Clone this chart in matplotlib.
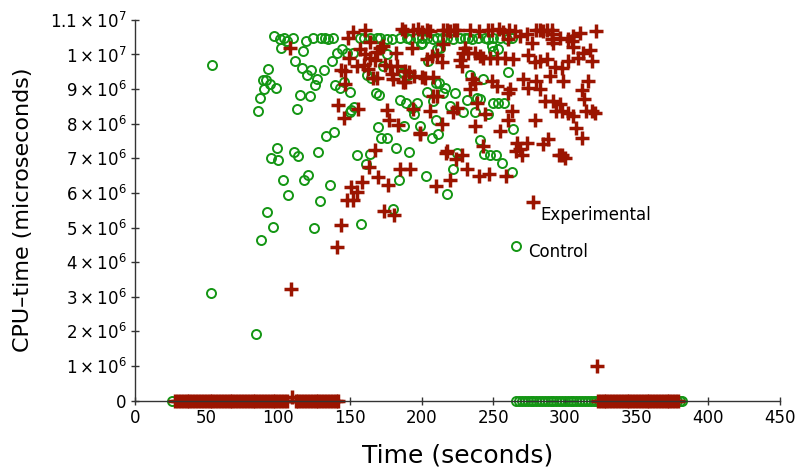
import numpy as np
import matplotlib
matplotlib.use("Agg")
import matplotlib.pyplot as plt
from matplotlib.ticker import FixedLocator, FuncFormatter

# CPU time per sample, in units of 10^6 microseconds
# control runs: scattered samples (time s, cpu)
ctrl_t = [53.7, 53.0, 84.4, 87.9, 85.8, 87.0, 89.0, 91.4, 94.2, 98.2, 90.2, 93.0,
          96.0, 91.9, 107.0, 103.0, 118.0, 121.0, 136.0, 129.0, 124.9, 158.0,
          95.0, 100.0, 99.0, 110.7, 114.0, 128.0, 155.0, 164.0, 161.0,
          133.0, 139.0, 169.3, 172.0, 176.0, 182.0, 188.0, 191.0, 198.8, 207.0, 211.6, 210.0,
          203.0, 184.0, 222.0, 218.0, 180.0, 225.0, 243.7, 248.0, 252.0, 256.0, 263.0,
          240.7, 264.0, 112.8, 115.0, 122.0, 125.8, 126.8, 120.0, 116.3, 123.0, 132.0,
          111.6, 117.0, 137.4, 140.7, 144.6, 147.7, 151.9,
          139.8, 143.0, 146.0, 150.0, 151.0, 152.8, 150.0,
          168.0, 170.0, 185.0, 189.0, 197.0, 193.0, 195.0, 204.0, 208.0, 210.0, 216.3, 223.3, 220.0,
          161.6, 165.0, 173.0, 186.8, 204.7, 212.0, 187.2, 190.7, 260.5, 233.7, 243.0, 215.0,
          231.4, 238.4, 240.7, 249.5, 253.5, 257.5, 229.0, 237.2, 246.5,
          175.6, 199.5, 210.5, 212.8, 200.0, 248.8, 253.5, 250.0,
          102.0, 106.0, 119.0,
          97.0, 101.0, 104.0, 110.0, 124.0, 129.5, 132.6, 135.0, 138.0, 157.0, 160.0, 164.0,
          168.6, 171.0, 175.6, 179.0, 185.0, 189.6, 192.0, 196.5, 200.0, 203.5, 208.1, 210.5,
          214.0, 217.5, 222.0, 226.7, 230.2, 232.5, 234.9, 239.5, 244.2, 246.5, 250.0, 254.7,
          259.3, 262.8]
ctrl_cpu = [9.71, 3.12, 1.93, 4.65, 8.36, 8.73, 9.25, 9.25, 9.14, 9.02, 9.00, 9.57,
            5.02, 5.46, 5.93, 6.37, 6.37, 6.53, 6.24, 5.78, 4.98, 5.10,
            7.00, 6.94, 7.30, 7.18, 7.07, 7.19, 7.09, 7.12, 6.84,
            7.64, 7.76, 7.91, 7.60, 7.58, 7.30, 7.92, 7.17, 7.93, 7.60, 7.69, 8.12,
            6.50, 6.37, 6.70, 5.98, 5.54, 7.16, 7.13, 7.09, 7.09, 6.87, 6.60,
            7.53, 7.85, 8.43, 8.82, 8.80, 9.11, 9.30, 9.40, 9.62, 9.55, 9.55,
            9.81, 10.10, 9.81, 10.03, 10.17, 10.05, 10.03,
            9.11, 9.02, 9.20, 8.93, 8.41, 8.48, 8.34,
            8.88, 8.82, 8.69, 8.61, 8.61, 8.46, 8.27, 8.91, 8.65, 9.17, 9.04, 8.90, 8.51,
            9.40, 9.33, 9.67, 9.46, 9.81, 9.19, 9.48, 9.40, 9.48, 9.40, 9.30, 8.90,
            8.69, 8.75, 8.70, 8.61, 8.61, 8.61, 8.34, 8.34, 8.27,
            10.00, 10.30, 10.17, 10.20, 10.34, 10.25, 10.17, 10.10,
            10.20, 10.39, 10.39,
            10.52, 10.46, 10.49, 10.49, 10.49, 10.49, 10.49, 10.44, 10.49, 10.49, 10.47, 10.49,
            10.49, 10.47, 10.46, 10.46, 10.49, 10.49, 10.46, 10.49, 10.47, 10.49, 10.46, 10.49,
            10.47, 10.49, 10.46, 10.49, 10.47, 10.49, 10.46, 10.47, 10.49, 10.46, 10.49, 10.47,
            10.46, 10.49]
# control runs: samples with zero CPU time
ctrl_zero_t = [26, 266, 268, 270, 272, 274, 276, 278, 280, 282, 284, 286, 288, 290,
               292, 294, 296, 298, 300, 302, 304, 306, 308, 310, 312, 314, 316, 318,
               320, 322, 324, 326, 328, 330, 332, 334, 336, 338, 340, 342, 344, 346,
               348, 350, 352, 354, 356, 358, 360, 362, 364, 366, 368, 370, 372, 374,
               376, 378, 380, 382]

# experimental runs: scattered samples
exp_t = [108.8, 141.0, 144.0, 148.0, 152.0, 150.7, 154.7, 158.6, 169.8, 176.5, 173.7, 163.0, 167.4,
         185.0, 192.0, 210.0, 220.0, 232.0, 240.0, 247.0, 259.0, 224.0, 228.0, 181.0, 217.0,
         266.0, 270.0, 296.0, 300.0, 322.3, 109.5,
         141.8, 146.0, 155.8, 176.0, 177.5, 183.7, 194.2, 205.8, 222.0, 199.0, 214.0, 208.0, 211.0,
         146.5, 187.2, 143.5, 146.5, 149.5, 155.0, 160.0, 162.7, 165.8, 169.0, 174.4, 178.0, 182.5,
         179.0, 180.0, 182.0, 108.0, 164.0, 171.0, 173.3, 168.6, 157.0, 160.5, 148.8, 164.0, 167.4,
         193.5, 204.0, 210.5, 188.5, 191.5, 195.0, 200.0, 202.5, 208.0, 188.6, 207.0, 215.0, 214.0,
         198.8, 217.5, 224.4, 229.0, 232.5, 237.2, 240.7, 230.2, 226.7, 228.0,
         235.0, 237.2, 233.7, 238.4, 237.2, 244.2, 243.0, 248.8, 252.4, 261.6, 260.5, 262.8, 260.5,
         254.7, 266.3, 273.3, 268.6, 243.0, 247.7, 252.3, 258.1, 264.0,
         271.0, 274.4, 280.0, 282.6, 289.5, 298.8, 316.3, 311.6, 282.6, 279.0, 274.4, 287.2,
         293.0, 298.0, 302.3, 309.3, 312.8, 317.4, 318.6,
         286.0, 292.0, 296.5, 294.0, 297.7, 302.3, 306.0, 279.0, 285.0, 288.4, 297.7, 308.0, 311.6,
         313.0, 315.0, 318.6, 321.0,
         276.8, 268.6, 273.3, 260.5, 290.7, 296.5, 310.5, 304.7, 306.0, 302.3, 305.8, 290.7, 292.0,
         152.0, 160.5, 186.0, 188.4, 194.0, 197.7, 200.0, 203.5, 206.0, 215.0, 217.5, 220.0,
         222.5, 225.0, 233.7, 240.0, 246.0, 249.0, 254.0, 257.0, 261.0, 265.0, 280.0, 282.8,
         285.0, 287.3, 291.0, 321.5]
exp_cpu = [3.23, 4.44, 5.06, 5.79, 5.79, 6.18, 6.03, 6.31, 6.47, 6.24, 5.48, 6.76, 7.23,
           6.68, 6.68, 6.19, 6.36, 6.68, 6.48, 6.56, 6.48, 6.99, 7.11, 5.37, 7.16,
           7.20, 7.11, 7.09, 7.00, 1.00, 0.10,
           8.53, 8.16, 8.43, 8.39, 8.12, 7.96, 8.42, 8.36, 8.34, 7.71, 7.98, 8.80, 8.79,
           9.14, 9.20, 9.55, 9.52, 9.91, 9.67, 9.70, 9.59, 9.33, 9.33, 9.69, 9.67, 9.67,
           9.43, 9.30, 10.03, 10.20, 10.36, 10.20, 10.25, 10.07, 10.15, 10.00, 10.47, 9.89, 9.83,
           10.20, 9.86, 9.98, 9.52, 9.50, 9.38, 9.36, 9.33, 9.35, 9.20, 9.96, 10.30, 9.77,
           7.74, 7.21, 8.46, 10.05, 10.05, 10.05, 9.96, 10.18, 9.83, 9.67,
           9.28, 9.19, 8.99, 8.61, 7.93, 8.27, 7.35, 9.23, 9.09, 8.99, 8.90, 8.37, 8.12,
           7.79, 7.45, 7.45, 7.26, 9.91, 9.91, 9.91, 9.91, 9.86,
           9.30, 9.04, 9.23, 8.99, 9.38, 9.23, 9.24, 8.98, 9.80, 9.77, 9.98, 9.86,
           9.65, 9.62, 9.80, 9.91, 10.03, 10.12, 9.82,
           8.65, 8.65, 8.56, 8.37, 8.37, 8.32, 8.22, 8.12, 7.40, 7.55, 7.11, 7.88, 7.59,
           8.70, 8.37, 8.37, 8.32,
           10.32, 10.52, 10.58, 10.44, 10.58, 10.49, 10.63, 10.39, 10.21, 10.46, 10.54, 10.44, 10.34,
           10.66, 10.70, 10.73, 10.68, 10.70, 10.73, 10.66, 10.70, 10.68, 10.72, 10.70, 10.68,
           10.72, 10.70, 10.72, 10.68, 10.71, 10.70, 10.73, 10.66, 10.70, 10.68, 10.72, 10.70,
           10.68, 10.72, 10.70, 10.68]
# experimental runs: samples with zero CPU time
exp_zero_t = [28, 30, 32, 34, 36, 38, 40, 42, 44, 46, 48, 50, 52, 54, 56, 58, 60, 62,
              64, 66, 68, 70, 72, 74, 76, 78, 80, 82, 84, 86, 88, 90, 92, 94, 96, 98,
              100, 102, 104, 106, 112, 114, 116, 118, 120, 122, 124, 126, 128, 130,
              132, 134, 136, 138, 140, 142,
              323, 325, 327, 329, 331, 333, 335, 337, 339, 341, 343, 345, 347, 349,
              351, 353, 355, 357, 359, 361, 363, 365, 367, 369, 371, 373, 375, 377, 379]

y_ticks = [0, 1, 2, 3, 4, 5, 6, 7, 8, 9, 10, 11]
x_ticks = [0, 50, 100, 150, 200, 250, 300, 350, 400, 450]

green = '#149614'
red = '#9b1400'

fig = plt.figure(figsize=(7.99, 4.73), dpi=100)
ax = fig.add_axes([0.169, 0.153, 0.807, 0.805])

circ = dict(marker='o', linestyle='none', markersize=6.5, markerfacecolor='none',
            markeredgecolor=green, markeredgewidth=1.4, clip_on=False)
plus = dict(marker='+', linestyle='none', markersize=9.5, markeredgecolor=red,
            markeredgewidth=2.5, clip_on=False)

ax.plot(ctrl_t, np.array(ctrl_cpu) * 1e6, **circ)
ax.plot(ctrl_zero_t, np.zeros(len(ctrl_zero_t)), **circ)
ax.plot(exp_t, np.array(exp_cpu) * 1e6, **plus)
ax.plot(exp_zero_t, np.zeros(len(exp_zero_t)), **plus)

# key, placed inside the plot
ax.plot([0.617], [0.522], transform=ax.transAxes, **plus)
ax.text(0.629, 0.488, 'Experimental', transform=ax.transAxes, fontsize=12,
        va='center', ha='left')
ax.plot([0.591], [0.406], transform=ax.transAxes, **circ)
ax.text(0.609, 0.391, 'Control', transform=ax.transAxes, fontsize=12,
        va='center', ha='left')

ax.set_xlim(0, 450)
ax.set_ylim(0, 1.1e7)
ax.xaxis.set_major_locator(FixedLocator(x_ticks))
ax.yaxis.set_major_locator(FixedLocator([v * 1e6 for v in y_ticks]))


def sci_label(v, pos):
    m = v / 1e6
    if m == 0:
        return '0'
    if m >= 10:
        return r'$%g\times10^{7}$' % (m / 10)
    return r'$%g\times10^{6}$' % m


ax.yaxis.set_major_formatter(FuncFormatter(sci_label))
for s in ['top', 'right']:
    ax.spines[s].set_visible(False)
for s in ['left', 'bottom']:
    ax.spines[s].set_linewidth(1.0)
    ax.spines[s].set_color('#333333')
ax.tick_params(direction='inout', length=6, width=1, color='#333333',
               labelsize=12, pad=3)
ax.set_xlabel('Time (seconds)', fontsize=18, labelpad=12)
ax.set_ylabel('CPU–time (microseconds)', fontsize=16, labelpad=12)

fig.savefig('out.png', dpi=100)
